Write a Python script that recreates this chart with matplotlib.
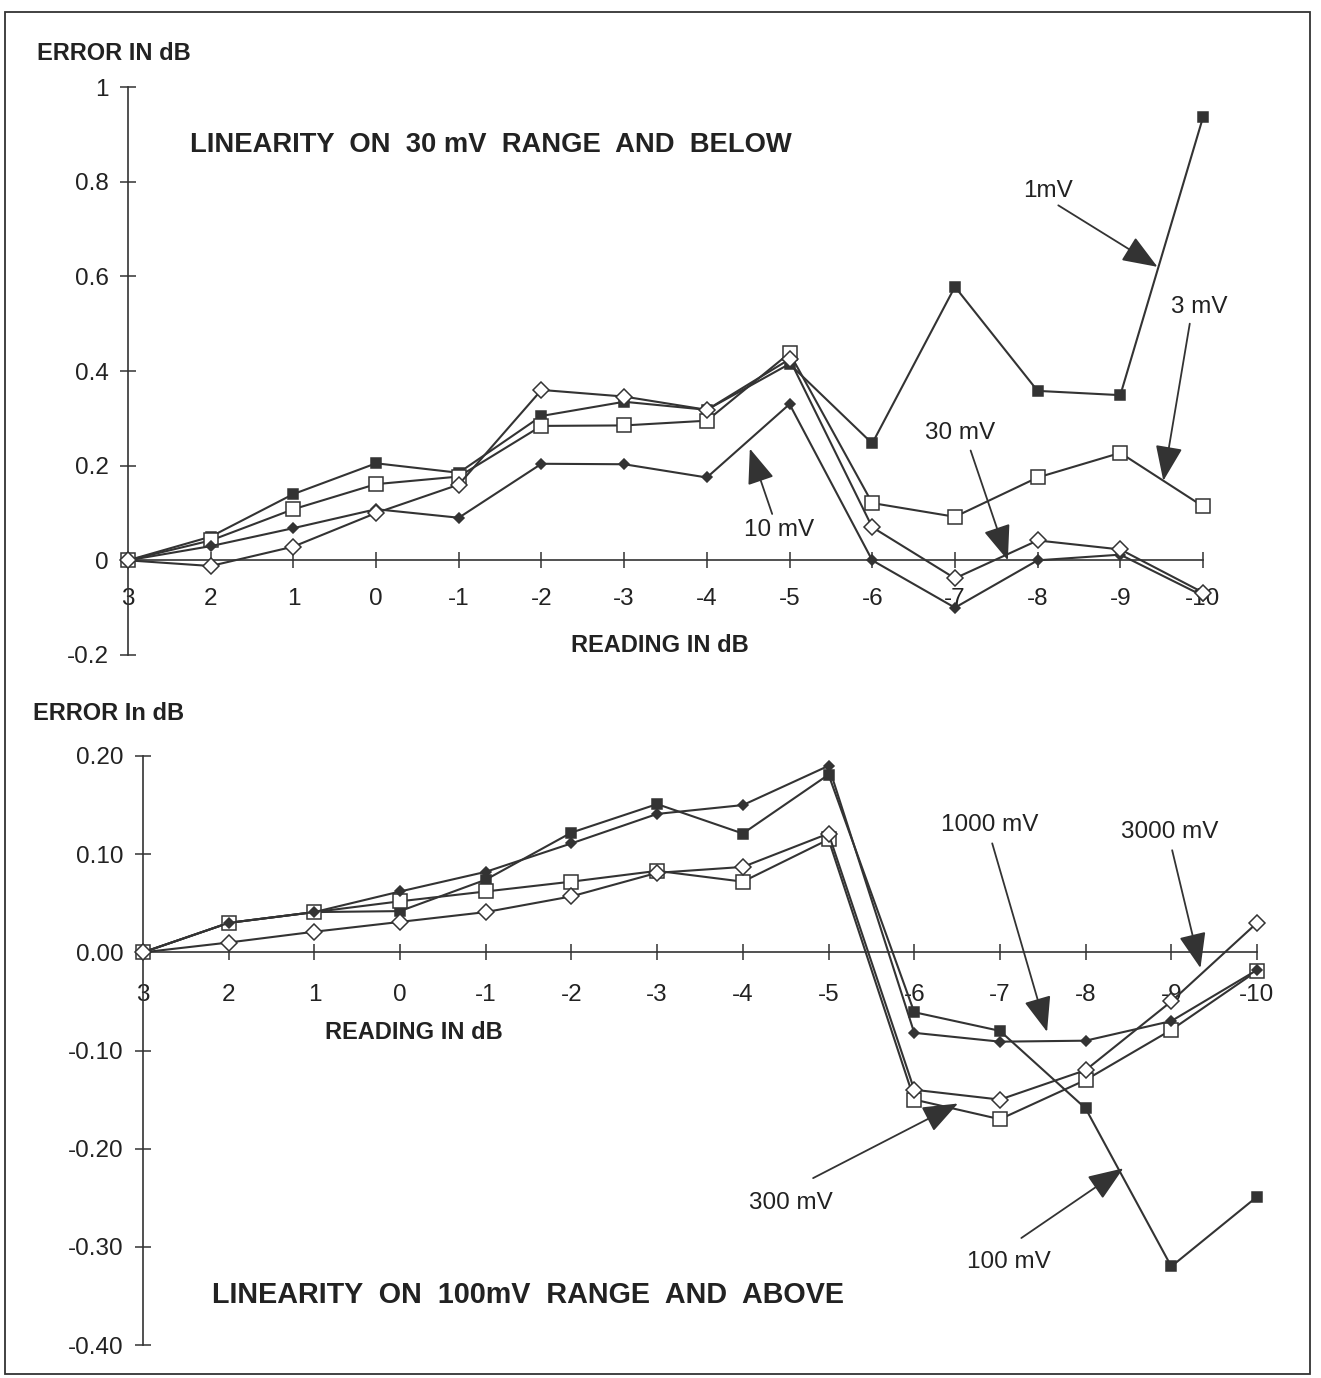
import matplotlib
matplotlib.use("Agg")
from matplotlib import pyplot as plt
from matplotlib.patches import Rectangle

plt.rcParams['font.family'] = ['Liberation Sans', 'DejaVu Sans']

# readings (dB) along the x axis, left to right
readings = [3, 2, 1, 0, -1, -2, -3, -4, -5, -6, -7, -8, -9, -10]
reading_labels = ['3', '2', '1', '0', '-1', '-2', '-3', '-4', '-5', '-6', '-7', '-8', '-9', '-10']

# upper chart: 30 mV range and below (error in dB)
err_1mV = [0, 0.05, 0.14, 0.205, 0.185, 0.305, 0.335, 0.318, 0.415, 0.247, 0.578, 0.358, 0.349, 0.936]
err_3mV = [0, 0.042, 0.108, 0.161, 0.177, 0.284, 0.285, 0.295, 0.438, 0.121, 0.092, 0.175, 0.227, 0.114]
err_10mV = [0, 0.03, 0.068, 0.108, 0.09, 0.204, 0.203, 0.175, 0.33, 0.0, -0.1, 0.0, 0.012, -0.075]
err_30mV = [0, -0.012, 0.029, 0.10, 0.16, 0.36, 0.346, 0.318, 0.425, 0.07, -0.038, 0.042, 0.023, -0.068]
top_yticks = [1, 0.8, 0.6, 0.4, 0.2, 0, -0.2]
top_ylabels = ['1', '0.8', '0.6', '0.4', '0.2', '0', '-0.2']

# lower chart: 100 mV range and above (error in dB)
err_100mV = [0, 0.03, 0.041, 0.042, 0.074, 0.122, 0.151, 0.121, 0.181, -0.061, -0.080, -0.159, -0.32, -0.249]
err_300mV = [0, 0.03, 0.041, 0.052, 0.062, 0.072, 0.083, 0.072, 0.115, -0.15, -0.17, -0.13, -0.079, -0.019]
err_1000mV = [0, 0.03, 0.041, 0.062, 0.082, 0.111, 0.141, 0.15, 0.19, -0.082, -0.091, -0.09, -0.07, -0.018]
err_3000mV = [0, 0.01, 0.021, 0.031, 0.041, 0.057, 0.081, 0.087, 0.121, -0.14, -0.15, -0.12, -0.05, 0.03]
bot_yticks = [0.2, 0.1, 0.0, -0.1, -0.2, -0.3, -0.4]
bot_ylabels = ['0.20', '0.10', '0.00', '-0.10', '-0.20', '-0.30', '-0.40']

INK = '#333333'
TXT = '#222222'
W, H = 1321, 1378

fig = plt.figure(figsize=(W / 100, H / 100), dpi=100)
fig.patch.set_facecolor('white')

# scanned page frame
fig.patches.append(Rectangle((0.004, 0.003), 0.988, 0.988, transform=fig.transFigure,
                             fill=False, edgecolor=INK, linewidth=1.3))


def make_axes(rect, ylim, yticks, ylabels, xpad):
    ax = fig.add_axes(rect)
    ax.set_xlim(3, -10)
    ax.set_ylim(*ylim)
    ax.patch.set_alpha(0)
    for s in ['top', 'right']:
        ax.spines[s].set_visible(False)
    ax.spines['bottom'].set_position(('data', 0))
    for s in ['left', 'bottom']:
        ax.spines[s].set_color(INK)
        ax.spines[s].set_linewidth(1.2)
    ax.set_xticks(readings)
    ax.set_xticklabels(reading_labels)
    ax.set_yticks(yticks)
    ax.set_yticklabels(ylabels)
    ax.tick_params(axis='both', direction='inout', length=12, width=1.1,
                   color=INK, labelcolor=TXT, labelsize=17.5)
    ax.tick_params(axis='x', pad=xpad)
    ax.tick_params(axis='y', pad=8)
    return ax


def series(ax, vals, marker, filled, ms):
    ax.plot(readings, vals, color=INK, linewidth=1.5, marker=marker, markersize=ms,
            markerfacecolor=INK if filled else 'white', markeredgecolor=INK,
            markeredgewidth=1.1, clip_on=False, zorder=3)


def arrow(ax, tail, tip):
    ax.annotate('', xy=tip, xytext=tail,
                arrowprops=dict(arrowstyle='-|>,head_length=2.2,head_width=0.85',
                                color=INK, linewidth=1.3, shrinkA=0, shrinkB=0),
                zorder=4)


# ---- upper chart
ax1 = make_axes([128 / W, 1 - 655 / H, (1203 - 128) / W, (655 - 87) / H],
                (-0.2, 1.0), top_yticks, top_ylabels, 14)
series(ax1, err_1mV, 's', True, 7.5)
series(ax1, err_3mV, 's', False, 10)
series(ax1, err_10mV, 'D', True, 5.5)
series(ax1, err_30mV, 'D', False, 8)

ax1.text(2.25, 0.877, 'LINEARITY  ON  30 mV  RANGE  AND  BELOW', fontsize=19.7,
         fontweight='bold', color=TXT, ha='left', va='center')
ax1.text(-3.43, -0.179, 'READING IN dB', fontsize=17, fontweight='bold',
         color=TXT, ha='center', va='center')
fig.text(37 / W, 1 - 53 / H, 'ERROR IN dB', fontsize=17, fontweight='bold',
         color=TXT, ha='left', va='center')

ax1.text(-8.13, 0.78, '1mV', fontsize=17.5, ha='center', va='center', color=TXT)
arrow(ax1, (-8.25, 0.75), (-9.45, 0.62))
ax1.text(-9.96, 0.536, '3 mV', fontsize=17.5, ha='center', va='center', color=TXT)
arrow(ax1, (-9.84, 0.50), (-9.52, 0.168))
ax1.text(-7.06, 0.27, '30 mV', fontsize=17.5, ha='center', va='center', color=TXT)
arrow(ax1, (-7.19, 0.232), (-7.64, 0.0))
ax1.text(-4.87, 0.064, '10 mV', fontsize=17.5, ha='center', va='center', color=TXT)
arrow(ax1, (-4.79, 0.098), (-4.52, 0.236))

# ---- lower chart
ax2 = make_axes([143 / W, 1 - 1345 / H, (1257 - 143) / W, (1345 - 756) / H],
                (-0.4, 0.2), bot_yticks, bot_ylabels, 17)
series(ax2, err_100mV, 's', True, 7.5)
series(ax2, err_300mV, 's', False, 10)
series(ax2, err_1000mV, 'D', True, 5.5)
series(ax2, err_3000mV, 'D', False, 8)

ax2.text(2.19, -0.349, 'LINEARITY  ON  100mV  RANGE  AND  ABOVE', fontsize=20.7,
         fontweight='bold', color=TXT, ha='left', va='center')
ax2.text(-0.16, -0.082, 'READING IN dB', fontsize=17, fontweight='bold',
         color=TXT, ha='center', va='center')
fig.text(33 / W, 1 - 714 / H, 'ERROR In dB', fontsize=17, fontweight='bold',
         color=TXT, ha='left', va='center')

ax2.text(-6.88, 0.13, '1000 mV', fontsize=17.5, ha='center', va='center', color=TXT)
arrow(ax2, (-6.91, 0.111), (-7.55, -0.081))
ax2.text(-8.98, 0.123, '3000 mV', fontsize=17.5, ha='center', va='center', color=TXT)
arrow(ax2, (-9.01, 0.104), (-9.34, -0.016))
ax2.text(-4.56, -0.255, '300 mV', fontsize=17.5, ha='center', va='center', color=TXT)
arrow(ax2, (-4.82, -0.23), (-6.51, -0.154))
ax2.text(-7.11, -0.315, '100 mV', fontsize=17.5, ha='center', va='center', color=TXT)
arrow(ax2, (-7.25, -0.291), (-8.44, -0.22))

fig.savefig('out.png', dpi=100, facecolor='white')
